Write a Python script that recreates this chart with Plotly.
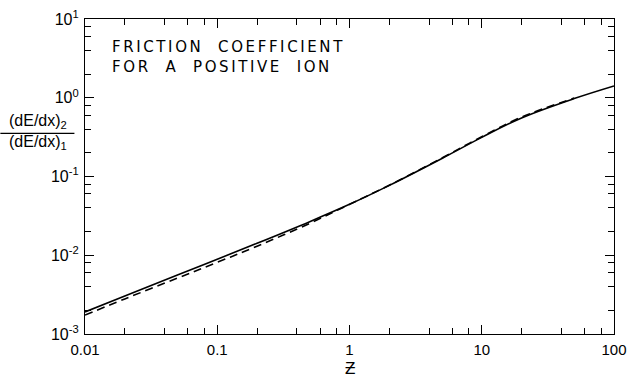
import plotly.graph_objects as go

# Friction coefficient ratio vs reduced variable
z_solid = [0.01, 0.02, 0.05, 0.1, 0.2, 0.5, 1, 2, 5, 10, 20, 50, 100]
ratio_solid = [1.905e-3, 3.03e-3, 5.61e-3, 8.91e-3, 1.419e-2, 2.67e-2, 4.43e-2,
               7.71e-2, 0.1694, 0.314, 0.555, 0.977, 1.413]

z_dashed = [0.01, 0.02, 0.05, 0.1, 0.2, 0.5, 1, 2, 5, 10, 20, 50]
ratio_dashed = [1.738e-3, 2.79e-3, 5.13e-3, 8.13e-3, 1.303e-2, 2.54e-2, 4.43e-2,
                7.76e-2, 0.1718, 0.320, 0.569, 0.99]

x_major = [0.01, 0.1, 1, 10, 100]
x_labels = ["0.01", "0.1", "1", "10", "100"]
y_major = [1e-3, 1e-2, 1e-1, 1, 10]
y_labels = ["10<sup>-3</sup>", "10<sup>-2</sup>", "10<sup>-1</sup>",
            "10<sup>0</sup>", "10<sup>1</sup>"]
minor_vals = [m * 10.0 ** e for e in range(-3, 2) for m in (2, 4, 6, 8)]

FONT = "Liberation Sans, Arial, sans-serif"

fig = go.Figure()
fig.add_trace(go.Scatter(x=z_dashed, y=ratio_dashed, mode="lines",
                         line=dict(color="black", width=1.6, dash="8px,5px", shape="spline"),
                         showlegend=False))
fig.add_trace(go.Scatter(x=z_solid, y=ratio_solid, mode="lines",
                         line=dict(color="black", width=1.6, shape="spline"),
                         showlegend=False))

axis_common = dict(
    type="log", showgrid=False, zeroline=False, automargin=False,
    showline=True, linecolor="black", linewidth=1.2, mirror="ticks",
    ticks="inside", ticklen=9, tickwidth=1, tickcolor="black",
    ticklabeloverflow="allow",
    minor=dict(ticks="inside", ticklen=6, tickwidth=1, tickcolor="black",
               tickmode="array", tickvals=minor_vals, showgrid=False),
)

fig.update_xaxes(range=[-2, 2], tickmode="array", tickvals=x_major,
                 ticktext=x_labels, ticklabelstandoff=2,
                 tickfont=dict(family=FONT, size=15, color="black"), **axis_common)
fig.update_yaxes(range=[-3, 1], tickmode="array", tickvals=y_major,
                 ticktext=y_labels, ticklabelstandoff=2,
                 tickfont=dict(family=FONT, size=16, color="black"), **axis_common)

fig.add_annotation(xref="paper", yref="paper", x=0.047, y=0.945,
                   xanchor="left", yanchor="top", align="left", showarrow=False,
                   text=("<span style='letter-spacing:2.6px'>FRICTION  COEFFICIENT</span><br>"
                         "<span style='letter-spacing:2.6px'>FOR  A  POSITIVE  ION</span>"),
                   font=dict(family="DejaVu Sans, sans-serif", size=15, color="black"))

# y-axis label as a fraction
fig.add_annotation(xref="paper", yref="paper", x=-0.088, y=0.637,
                   xanchor="center", yanchor="bottom", showarrow=False,
                   text="(dE/dx)<sub>2</sub>",
                   font=dict(family=FONT, size=16, color="black"))
fig.add_annotation(xref="paper", yref="paper", x=-0.088, y=0.645,
                   xanchor="center", yanchor="top", showarrow=False,
                   text="(dE/dx)<sub>1</sub>",
                   font=dict(family=FONT, size=16, color="black"))
fig.add_shape(type="line", xref="paper", yref="paper",
              x0=-0.16, x1=-0.02, y0=0.637, y1=0.637,
              line=dict(color="black", width=1.2))

fig.add_annotation(xref="paper", yref="paper", x=0.5, y=-0.111,
                   xanchor="center", yanchor="middle", showarrow=False,
                   text="Ƶ", font=dict(family=FONT, size=17, color="black"))

fig.update_layout(
    width=628, height=381,
    margin=dict(l=85, r=14, t=19, b=47),
    plot_bgcolor="white", paper_bgcolor="white",
    font=dict(family=FONT, color="black"),
    showlegend=False,
)

# drop the default body margin so the figure sits flush in the window
fig.write_html("out.html",
               config={"displayModeBar": False},
               post_script="document.body.style.margin='0';"
                           "document.documentElement.style.overflow='hidden';")
